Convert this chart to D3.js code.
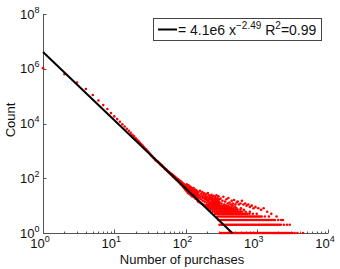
<!DOCTYPE html>
<html>
<head>
<meta charset="utf-8">
<script src="https://cdn.jsdelivr.net/npm/d3@7"></script>
<style>
body { margin: 0; background: #fff; }
svg { font-family: "Liberation Sans", Arial, Helvetica, sans-serif; }
</style>
</head>
<body>
<div id="chart"></div>
<script>
// purchases per user (n) vs number of users with that count
var headN = [1,2,3,4,5,6,7,8,9,10,11,12,13,14,15,16,17,18,19,20,21,22,23,24,25,26,27,28,29,30,
  31,32,33,34,35,36,37,38,39,40,41,42,43,44,45,46,47,48,49,50,51,52,53,54,55,56,57,58,59,60];
var headCount = [1050000,631000,316000,182000,110000,69000,47000,34000,24000,18200,
  14450,11640,9310,7745,6380,5430,4560,3865,3380,2910,2518,2240,1960,1722,1556,1380,1227,1146,1005,923,
  830,767,679,646,586,535,511,457,440,415,402,368,360,325,318,290,288,262,259,240,
  232,214,212,204,187,185,178,165,164,158];

// the spread-out part of the tail
var cloudN = [61,62,63,64,65,66,67,68,69,70,71,72,73,74,75,76,77,78,79,80,81,82,83,84,85,86,87,88,89,90,
  91,92,93,94,95,96,97,98,99,100,101,102,103,104,105,106,107,108,109,110,111,112,113,114,115,116,117,118,119,120,
  121,122,123,124,125,126,127,128,129,130,131,132,133,134,135,136,137,138,139,140,141,142,143,144,145,146,147,148,149,150,
  152,154,156,158,160,162,164,166,168,170,172,174,176,178,180,182,184,186,188,190,192,194,196,198,200,
  202,204,206,208,210,212,214,216,218,220,222,224,226,228,230,232,234,236,238,240,242,244,246,248,250,
  252,254,256,258,260,262,264,266,268,270,272,274,276,278,280,282,284,286,288,290,292,294,296,298,300,
  310,320,330,340,350,360,375,390,400,415,430,445,460,480,500,520,540,560,590,620,650,690,720,760,800,
  850,900,960,1050,1150,1250,1400,1600,1900,2200];
var cloudCount = [152,140,146,131,138,118,127,112,120,104,112,97,106,90,99,86,94,79,91,75,84,70,80,66,77,61,74,58,69,55,
  66,50,63,47,60,44,57,41,54,38,52,36,45,60,33,41,48,29,39,55,34,27,44,37,31,50,25,40,33,46,
  28,36,22,42,30,26,38,33,21,44,27,35,24,30,19,39,26,32,18,28,23,36,20,29,25,16,33,22,27,14,
  30,19,24,13,35,21,17,27,12,22,31,15,19,25,11,20,28,14,17,23,10,19,26,13,16,
  21,11,29,15,18,12,24,14,20,11,17,22,13,19,12,25,15,18,11,21,14,16,12,23,13,
  17,11,19,14,12,21,15,11,17,13,24,12,16,14,11,19,13,15,12,22,11,14,17,12,13,
  18,12,15,21,11,14,17,12,19,13,11,15,12,16,11,13,14,11,12,15,11,12,10,11,9,
  10,8,9,8,7,8,6,5,4,3];

// low counts form flat rows: n values sitting at each count
var rowCounts = [1,2,3,4,5,6,7,8,9,10];
var row1 = [305,322,340,355,372,390,410,428,447,468,490,512,535,560,585,612,640,668,700,732,765,800,836,875,915,957,
  1000,1046,1094,1144,1196,1250,1308,1368,1430,1495,1563,1635,1710,1788,1870,1955,2044,2138,2235,2337,2444,2556,2673,2795,2920,3150,3400,3720,4460];
var row2 = [300,318,335,352,370,388,408,430,450,472,495,520,545,572,600,630,660,693,727,762,800,840,880,923,968,
  1015,1065,1117,1172,1230,1290,1352,1418,1488,1560,1636,1716,1800,1888,1980,2075,2175,2400,2650,2900];
var row3 = [290,305,322,338,355,373,392,412,433,455,478,502,527,553,581,610,640,672,706,741,778,817,858,900,945,992,
  1042,1094,1148,1205,1265,1330,1395,1465,1540,1620,1700,1800,2000,2330];
var row4 = [280,296,312,328,345,362,381,400,420,441,463,486,510,536,563,591,620,651,684,718,754,792,831,873,916,962,
  1010,1060,1113,1170,1300,1480];
var row5 = [260,275,290,305,322,338,355,373,392,412,433,455,478,502,527,553,581,610,640,672,706,741,790,880,1000];
var row6 = [240,255,270,286,303,320,338,357,378,400,423,447,473,500,528,560,590,625,700,800];
var row7 = [225,240,256,272,290,308,328,349,372,396,421,448,477,508,540,590,660];
var row8 = [215,230,246,262,280,298,318,340,362,386,412,440,470,520,600];
var row9 = [205,220,236,252,270,289,309,330,353,378,404,440,500];
var row10 = [195,210,226,243,260,279,299,320,343,368,400,460];
var rows = [row1,row2,row3,row4,row5,row6,row7,row8,row9,row10];

// fitted power law, from n = 1 to where it reaches a count of 1
var fitN = [1, 453];
var fitCount = [4.1e6, 1];

var xTicks = [1, 10, 100, 1000, 10000];
var yTicks = [1, 1e2, 1e4, 1e6, 1e8];

var width = 340, height = 269;
var plotL = 43, plotR = 328, plotT = 14, plotB = 233;

var x = d3.scaleLog().domain([1, 1e4]).range([plotL, plotR]);
var y = d3.scaleLog().domain([1, 1e8]).range([plotB, plotT]);

var points = [];
headN.forEach(function(n, i) { points.push([n, headCount[i]]); });
cloudN.forEach(function(n, i) { points.push([n, cloudCount[i]]); });
rows.forEach(function(r, i) {
  r.forEach(function(n) { points.push([n, rowCounts[i]]); });
});

var svg = d3.select("#chart").append("svg")
  .attr("width", width)
  .attr("height", height);

var axisColor = "#555";

// axes (drawn under the data, like matlab)
var xAxis = svg.append("g").attr("transform", "translate(0," + (plotB + 0.5) + ")");
xAxis.append("line")
  .attr("x1", plotL).attr("x2", plotR)
  .attr("stroke", axisColor);
var minor = [];
for (var d = 1; d < 1e4; d *= 10) {
  for (var m = 2; m < 10; m++) minor.push(d * m);
}
xAxis.selectAll(".minor").data(minor).enter().append("line")
  .attr("x1", function(d) { return Math.round(x(d)) + 0.5; })
  .attr("x2", function(d) { return Math.round(x(d)) + 0.5; })
  .attr("y1", 0).attr("y2", -2)
  .attr("stroke", axisColor);
xAxis.selectAll(".major").data(xTicks).enter().append("line")
  .attr("x1", function(d) { return Math.round(x(d)) + 0.5; })
  .attr("x2", function(d) { return Math.round(x(d)) + 0.5; })
  .attr("y1", 0).attr("y2", -4)
  .attr("stroke", axisColor);
var xl = xAxis.selectAll(".lab").data(xTicks).enter().append("text")
  .attr("x", function(d) { return x(d) - 3; })
  .attr("y", 14)
  .attr("text-anchor", "middle")
  .attr("font-size", 13)
  .attr("fill", "#111");
xl.append("tspan").text("10");
xl.append("tspan").attr("dy", -6).attr("font-size", 9)
  .text(function(d) { return Math.round(Math.log10(d)); });

var yAxis = svg.append("g").attr("transform", "translate(" + (plotL + 0.5) + ",0)");
yAxis.append("line")
  .attr("y1", plotT).attr("y2", plotB)
  .attr("stroke", axisColor);
yAxis.selectAll(".major").data(yTicks).enter().append("line")
  .attr("y1", function(d) { return Math.round(y(d)) + 0.5; })
  .attr("y2", function(d) { return Math.round(y(d)) + 0.5; })
  .attr("x1", 0).attr("x2", 3)
  .attr("stroke", axisColor);
var yl = yAxis.selectAll(".lab").data(yTicks).enter().append("text")
  .attr("x", -4)
  .attr("y", function(d) { return y(d) + 4.5; })
  .attr("text-anchor", "end")
  .attr("font-size", 13)
  .attr("fill", "#111");
yl.append("tspan").text("10");
yl.append("tspan").attr("dy", -6).attr("font-size", 9)
  .text(function(d) { return Math.round(Math.log10(d)); });

// data points
svg.append("g").selectAll("circle")
  .data(points).enter().append("circle")
  .attr("cx", function(d) { return x(d[0]); })
  .attr("cy", function(d) { return y(d[1]); })
  .attr("r", 1.3)
  .attr("fill", "#ff0000");

// fit line
svg.append("path")
  .datum(fitN.map(function(n, i) { return [n, fitCount[i]]; }))
  .attr("d", d3.line()
    .x(function(d) { return x(d[0]); })
    .y(function(d) { return y(d[1]); }))
  .attr("stroke", "#000")
  .attr("stroke-width", 2)
  .attr("fill", "none");

// axis labels
svg.append("text")
  .attr("x", 182)
  .attr("y", 264)
  .attr("text-anchor", "middle")
  .attr("font-size", 13)
  .attr("fill", "#111")
  .text("Number of purchases");
svg.append("text")
  .attr("transform", "translate(15,120) rotate(-90)")
  .attr("text-anchor", "middle")
  .attr("font-size", 13)
  .attr("fill", "#111")
  .text("Count");

// legend
var leg = svg.append("g");
leg.append("rect")
  .attr("x", 153.5).attr("y", 18.5)
  .attr("width", 168).attr("height", 22)
  .attr("fill", "#fff")
  .attr("stroke", "#444");
leg.append("line")
  .attr("x1", 158).attr("x2", 177)
  .attr("y1", 29.5).attr("y2", 29.5)
  .attr("stroke", "#000")
  .attr("stroke-width", 2);
var lt = leg.append("text")
  .attr("x", 178).attr("y", 35)
  .attr("font-size", 14)
  .attr("fill", "#111");
lt.append("tspan").text("= 4.1e6 x");
lt.append("tspan").attr("dy", -6).attr("font-size", 10).text("\u22122.49");
lt.append("tspan").attr("dy", 6).text(" R");
lt.append("tspan").attr("dy", -6).attr("font-size", 10).text("2");
lt.append("tspan").attr("dy", 6).text("=0.99");
</script>
</body>
</html>
